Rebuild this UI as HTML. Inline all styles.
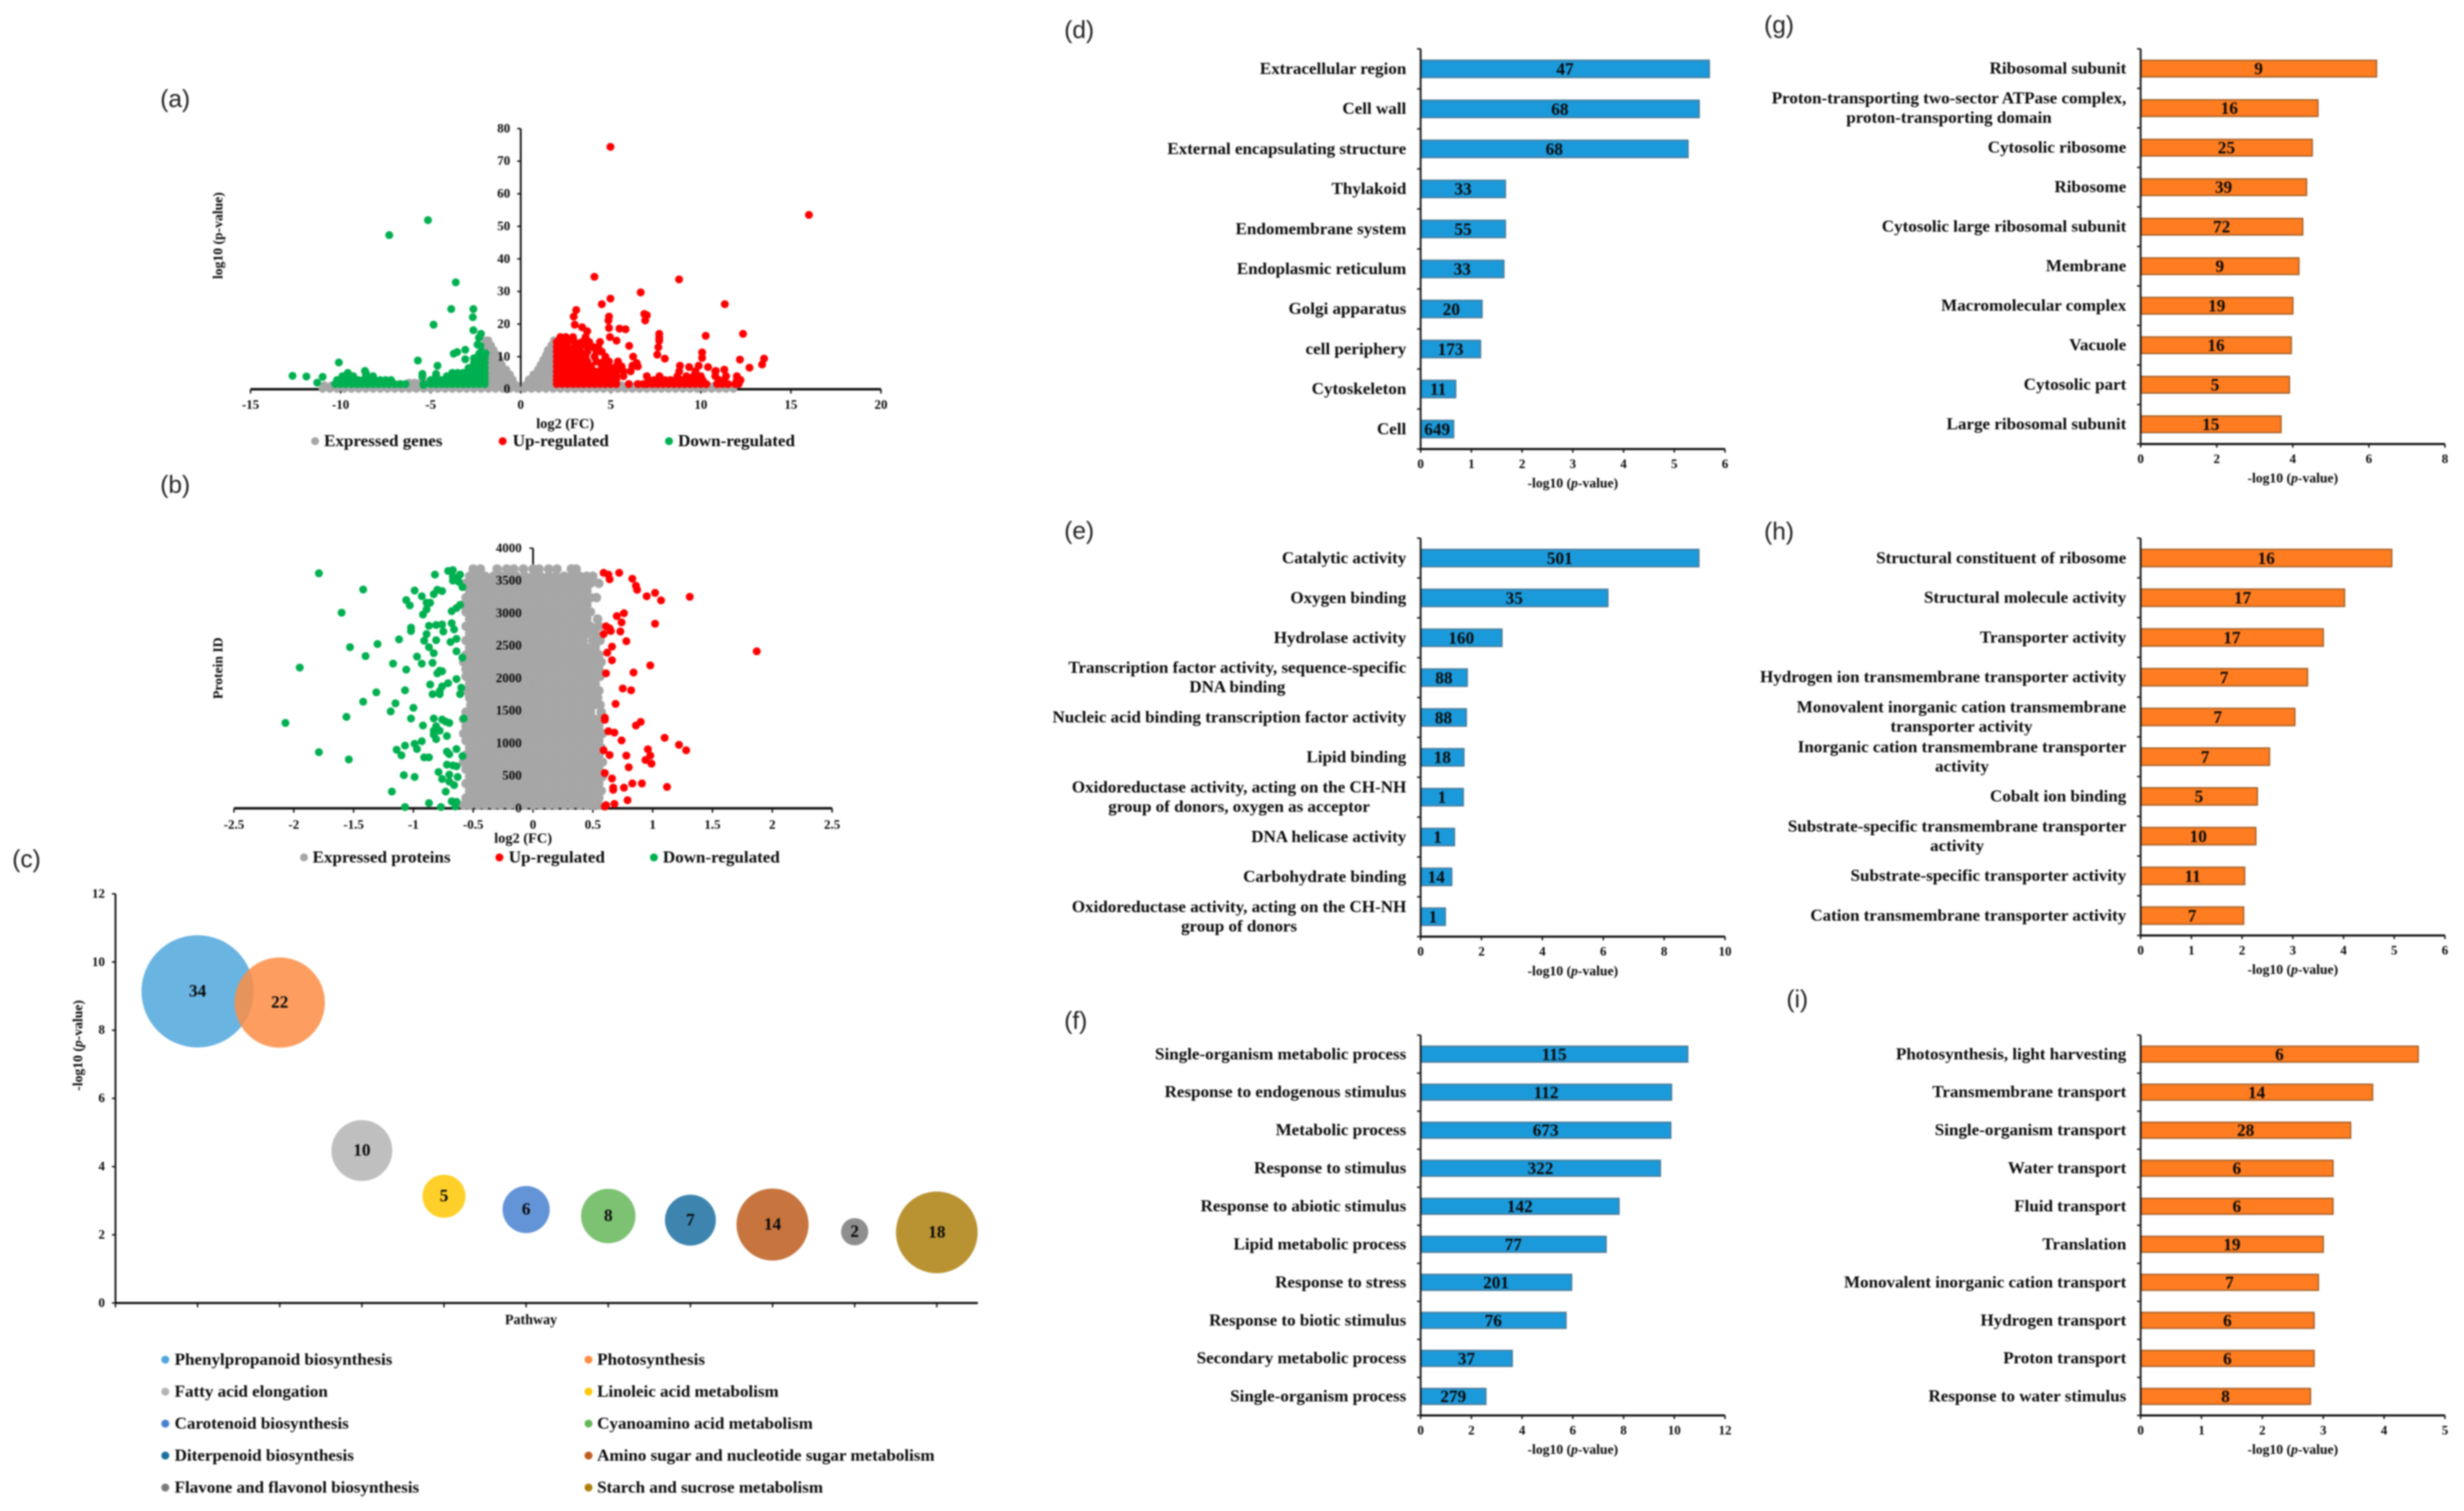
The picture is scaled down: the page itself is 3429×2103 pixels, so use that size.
<!DOCTYPE html>
<html lang="en">
<head>
<meta charset="utf-8">
<title>Transcriptome and proteome enrichment figure</title>
<style>
html,body{margin:0;padding:0;background:#fff;}
svg{display:block;filter:blur(1px);}
text{font-family:"Liberation Serif",serif;font-weight:bold;fill:#0a0a0a;}
.panel-letter{font-family:"Liberation Sans",sans-serif;font-weight:normal;font-size:34px;fill:#222;}
</style>
</head>
<body>
<svg id="figure" xmlns="http://www.w3.org/2000/svg" width="3429" height="2103" viewBox="0 0 3429 2103">
<rect x="0" y="0" width="3429" height="2103" fill="#fff"/>
<text class="panel-letter" x="223" y="149">(a)</text>
<text class="panel-letter" x="223" y="686">(b)</text>
<text class="panel-letter" x="17" y="1207">(c)</text>
<text class="panel-letter" x="1481" y="53">(d)</text>
<text class="panel-letter" x="1481" y="750">(e)</text>
<text class="panel-letter" x="1481" y="1432">(f)</text>
<text class="panel-letter" x="2455" y="46">(g)</text>
<text class="panel-letter" x="2455" y="751">(h)</text>
<text class="panel-letter" x="2486" y="1402">(i)</text>
</svg>
<script>
/* ---------- Panel (a): gene volcano plot, [y, [x, x, ...]] rows plus isolated [x, y] points ---------- */
const aXTicks = [-15,-10,-5,0,5,10,15,20];
const aYTicks = [0,10,20,30,40,50,60,70,80];
const aExpressedRows = [
[.1,[-11,-10.6,-10.2,-9.8,-9.4,-9,-8.6,-8.2,-7.8,-7.4,-7,-6.6,-6.2,-5.8,-5.4,-5,-4.6,-4.2,-3.8,-3.4,-3,-2.6,-2.2,-1.8,-1.4,-1,-.6,-.2,.2,.6,1,1.4,1.8,2.2,2.6,3,3.4,3.8,4.2,4.6,5,5.4,5.8,6.2,6.6,7,7.4,7.8,8.2,8.6,9,9.4,9.8,10.2,10.6,11,11.4,11.8]],
[1.2,[-10.9,-10.5,-8,-7.5,-7,-6.6,-6.2,-5.8,-5.4,-5,-4.6,-2,-1.7,-1.4,-1.1,-.8,-.5,-.25,.25,.5,.8,1.1,1.4,1.7,5.2,5.6,6,6.4,6.8,10.4,10.8,11.2,11.6]],
[2,[-6.2,-5.9,-5.6,-5.3,-1.9,-1.6,-1.3,-1,-.7,-.4,.4,.7,1,1.3,1.6,1.9]],
[3,[-1.9,-1.6,-1.3,-1,-.7,-.45,.45,.75,1.05,1.35,1.65,1.9]],
[4.5,[-1.9,-1.6,-1.3,-1,-.7,-.6,.7,1,1.3,1.6,1.85]],
[6,[-1.9,-1.6,-1.3,-1,-.8,.95,1.25,1.55,1.85]],
[7.5,[-1.95,-1.65,-1.35,-1.05,1.1,1.4,1.7,1.9]],
[9,[-1.95,-1.7,-1.4,-1.15,1.25,1.5,1.8]],
[10.5,[-1.95,-1.7,-1.45,-1.3,1.4,1.6,1.85]],
[12,[-1.95,-1.7,-1.5,1.5,1.7,1.85]],
[13.5,[-1.95,-1.75,-1.65,1.7,1.85]],
[15,[-1.95,-1.8,1.85]]
];
const aUpRows = [
[1.6,[2,2.3,2.6,2.9,3.2,3.5,3.8,4.1,4.4,4.7,5,5.3,6,6.5,6.8,7,7.3,7.6,7.9,8.2,8.5,8.8,9.1,9.4,9.7,10,10.3,10.9,11.2,11.5,11.9,12.1]],
[2.8,[2,2.3,2.6,2.9,3.2,3.5,3.8,4.1,4.4,4.7,5,5.3,7.1,7.4,7.7,8,8.3,8.6,8.9,9.2,9.5,9.8,10.1,11,11.3,12,12.2]],
[4,[2,2.3,2.6,2.9,3.2,3.5,3.8,4.1,4.4,4.7,5,5.3,5.7,7,7.7,8.7,9.2,9.6,10,10.8,11.4,12]],
[5.5,[2,2.3,2.6,2.9,3.2,3.5,3.8,4.1,4.4,4.7,5,5.3,5.7,6.1,8.8,9.7,10.8]],
[7,[2,2.3,2.6,2.9,3.2,3.6,3.9,4.5,4.9,5.3,5.6,6.2,6.5]],
[8.5,[2,2.3,2.6,2.9,3.3,3.7,4.2,4.6,4.9,5.4]],
[10,[2,2.3,2.6,2.9,3.2,3.6,4.1,4.7]],
[11.5,[2,2.3,2.6,2.9,3.3,3.7,4.2,4.5]],
[13,[2,2.3,2.6,3,3.3,3.7,4,4.3]],
[14.5,[2,2.3,2.6,3,3.4,3.8,4.4]],
[16,[2.2,2.5,2.9,3.6]]
];
const aUpPoints = [[4.98,74.4],[16,53.5],[4.09,34.5],[8.79,33.7],[6.66,29.7],[4.98,27.8],[4.5,26.1],[11.33,26.1],[3.08,24.3],[2.94,22.3],[4.9,22.3],[4.87,21.1],[6.86,23.1],[7,22.7],[6.91,21.1],[3,19.8],[3.41,19],[4.9,18.8],[5.48,18.6],[5.82,18.4],[3.69,17.8],[7.69,17],[12.34,17],[10.27,16.4],[7.69,15.8],[7.69,14.9],[4.95,16],[5.32,14.9],[6.02,13.3],[7.64,12.9],[10.07,11.3],[7.58,10.6],[6.24,10],[8,9.4],[10.07,9.6],[12.17,9.1],[13.51,9.4],[13.4,7.6],[12.7,6.6],[8.84,7.2],[9.35,6.8],[9.88,7.2],[10.4,6.8],[11.3,6],[10.83,5.6],[6.44,8],[6.2,7.2]];
const aDownRows = [
[1.6,[-2,-2.3,-2.6,-2.9,-3.2,-3.5,-3.8,-4.1,-4.4,-4.7,-5,-5.4,-6.4,-6.7,-7,-7.3,-7.6,-7.9,-8.2,-8.5,-8.8,-9.1,-9.4,-9.7,-10,-10.3]],
[2.8,[-2,-2.3,-2.6,-2.9,-3.2,-3.5,-3.8,-4.1,-4.4,-4.7,-5,-7.2,-7.5,-7.8,-8.1,-8.4,-8.7,-9,-9.3,-9.6,-9.9,-10.2]],
[4,[-2,-2.3,-2.6,-2.9,-3.2,-3.5,-3.8,-4.1,-4.7,-8.2,-8.6,-9.3,-9.6,-9.9]],
[5,[-2,-2.3,-2.6,-2.9,-3.2,-3.5,-3.8,-8.6,-9.6]],
[6.5,[-2,-2.3,-2.6,-2.9]],
[8,[-2,-2.3,-2.6]],
[9.5,[-2,-2.3,-2.6]],
[11,[-1.95,-2.3]]
];
const aDownPoints = [[-5.15,51.9],[-7.3,47.3],[-3.61,32.8],[-3.86,24.6],[-2.63,24.6],[-2.66,22.1],[-4.84,19.8],[-2.63,18.1],[-2.21,17],[-2.32,15.8],[-2.4,13.7],[-2.24,13.3],[-3.53,11.4],[-3.72,10.9],[-3.08,12.1],[-3.08,9.2],[-2.46,9.6],[-2.13,11.3],[-5.71,8.8],[-10.1,8.2],[-4.62,7.2],[-5.46,4.7],[-5.46,3.9],[-12.67,4.1],[-11.9,3.9],[-11,3.8],[-11.3,2],[-8.65,5.6],[-9.6,4.7],[-4.7,4.7],[-5.4,1.3]];

/* ---------- Panel (b): protein volcano plot ---------- */
const bXTicks = [-2.5,-2,-1.5,-1,-.5,0,.5,1,1.5,2,2.5];
const bYTicks = [0,500,1000,1500,2000,2500,3000,3500,4000];
const bExpressedRows = [
[3680,[-.5,-.44,-.3,-.22,-.16,-.08,0,.05,.13,.2,.32,.36]],
[3570,[-.53,-.47,-.4,-.33,-.27,-.2,-.14,-.07,0,.06,.13,.19,.26,.32,.39,.45,.5]],
[3460,[-.56,-.49,-.43,-.36,-.3,-.23,-.17,-.1,-.04,.03,.09,.16,.22,.29,.35,.42,.48,.55]],
[3350,[-.53,-.46,-.4,-.33,-.27,-.2,-.14,-.07,0,.06,.13,.19,.26,.32,.39,.45]],
[3240,[-.56,-.5,-.43,-.36,-.3,-.23,-.17,-.1,-.04,.03,.09,.16,.22,.29,.35,.42,.48,.53]],
[3130,[-.58,-.53,-.46,-.4,-.33,-.27,-.2,-.14,-.07,0,.06,.13,.19,.26,.32,.39,.45]],
[3020,[-.56,-.49,-.43,-.36,-.3,-.23,-.17,-.1,-.04,.03,.09,.16,.22,.29,.35,.42,.48]],
[2910,[-.53,-.46,-.4,-.33,-.27,-.2,-.14,-.07,0,.06,.13,.19,.26,.32,.39,.45,.54]],
[2800,[-.56,-.49,-.43,-.36,-.3,-.23,-.17,-.1,-.04,.03,.09,.16,.22,.29,.35,.42,.48,.55]],
[2690,[-.53,-.46,-.4,-.33,-.27,-.2,-.14,-.07,0,.06,.13,.19,.26,.32,.39,.45,.52]],
[2580,[-.56,-.49,-.43,-.36,-.3,-.23,-.17,-.1,-.04,.03,.09,.16,.22,.29,.35,.42,.5,.56]],
[2470,[-.53,-.46,-.4,-.33,-.27,-.2,-.14,-.07,0,.06,.13,.19,.26,.32,.39,.45,.52]],
[2360,[-.56,-.49,-.43,-.36,-.3,-.23,-.17,-.1,-.04,.03,.09,.16,.22,.29,.35,.42,.48,.55]],
[2250,[-.58,-.52,-.46,-.4,-.33,-.27,-.2,-.14,-.07,0,.06,.13,.19,.26,.32,.39,.45,.52,.57]],
[2140,[-.56,-.49,-.43,-.36,-.3,-.23,-.17,-.1,-.04,.03,.09,.16,.22,.29,.35,.42,.48,.55]],
[2030,[-.56,-.51,-.46,-.4,-.33,-.27,-.2,-.14,-.07,0,.06,.13,.19,.26,.32,.39,.44,.5,.56]],
[1920,[-.53,-.48,-.43,-.36,-.3,-.23,-.17,-.1,-.04,.03,.09,.16,.22,.29,.35,.42,.47,.52]],
[1810,[-.56,-.5,-.46,-.4,-.33,-.27,-.2,-.14,-.07,0,.06,.13,.19,.26,.32,.39,.45,.5,.55]],
[1700,[-.53,-.49,-.43,-.36,-.3,-.23,-.17,-.1,-.04,.03,.09,.16,.22,.29,.35,.42,.48,.54]],
[1590,[-.52,-.46,-.4,-.33,-.27,-.2,-.14,-.07,0,.06,.13,.19,.26,.32,.39,.45,.51,.56]],
[1480,[-.56,-.49,-.43,-.36,-.3,-.23,-.17,-.1,-.04,.03,.09,.16,.22,.29,.35,.42,.48,.57]],
[1370,[-.58,-.53,-.46,-.4,-.33,-.27,-.2,-.14,-.07,0,.06,.13,.19,.26,.32,.39,.45,.52,.58]],
[1260,[-.56,-.49,-.43,-.36,-.3,-.23,-.17,-.1,-.04,.03,.09,.16,.22,.29,.35,.42,.48,.55]],
[1150,[-.58,-.53,-.46,-.4,-.33,-.27,-.2,-.14,-.07,0,.06,.13,.19,.26,.32,.39,.45,.52,.58]],
[1040,[-.56,-.49,-.43,-.36,-.3,-.23,-.17,-.1,-.04,.03,.09,.16,.22,.29,.35,.42,.48,.55]],
[930,[-.53,-.46,-.4,-.33,-.27,-.2,-.14,-.07,0,.06,.13,.19,.26,.32,.39,.45,.52,.57]],
[820,[-.56,-.49,-.43,-.36,-.3,-.23,-.17,-.1,-.04,.03,.09,.16,.22,.29,.35,.42,.48,.55]],
[710,[-.58,-.53,-.46,-.4,-.33,-.27,-.2,-.14,-.07,0,.06,.13,.19,.26,.32,.39,.45,.52,.58]],
[600,[-.56,-.49,-.43,-.36,-.3,-.23,-.17,-.1,-.04,.03,.09,.16,.22,.29,.35,.42,.48,.55]],
[490,[-.53,-.46,-.4,-.33,-.27,-.2,-.14,-.07,0,.06,.13,.19,.26,.32,.39,.45,.52,.58]],
[380,[-.56,-.49,-.43,-.36,-.3,-.23,-.17,-.1,-.04,.03,.09,.16,.22,.29,.35,.42,.48,.55]],
[270,[-.53,-.46,-.4,-.33,-.27,-.2,-.14,-.07,0,.06,.13,.19,.26,.32,.39,.45,.51,.57]],
[160,[-.56,-.49,-.43,-.36,-.3,-.23,-.17,-.1,-.04,.03,.09,.16,.22,.29,.35,.42,.48,.55]],
[50,[-.58,-.53,-.46,-.4,-.33,-.27,-.2,-.14,-.07,0,.06,.13,.19,.26,.32,.39,.45,.5,.55]]
];
const bUpPoints = [[.59,3622],[.63,3594],[.64,3522],[.72,3622],[.83,3530],[.86,3422],[.87,3361],[1.02,3313],[.95,3261],[1.31,3253],[1.07,3197],[.76,3000],[.7,2956],[.74,2859],[1.02,2839],[.61,2799],[.64,2767],[.65,2727],[.73,2719],[.59,2679],[.78,2570],[.66,2486],[.62,2394],[1.87,2414],[.66,2277],[.98,2197],[.84,2088],[.61,2076],[.75,1843],[.82,1815],[.69,1606],[.6,1394],[.6,1361],[.9,1329],[.86,1273],[.63,1185],[.68,1165],[1.1,1084],[.74,1044],[1.22,976],[1.28,892],[.96,908],[.59,892],[.64,819],[.78,811],[.98,811],[.94,743],[.99,687],[.8,631],[.6,542],[.66,458],[.91,382],[.83,382],[1.12,329],[.76,317],[.67,317],[.67,285],[.79,124],[.68,68],[.61,48],[.6,28]];
const bDownPoints = [[-1.79,3614],[-.82,3594],[-.71,3651],[-.67,3663],[-.61,3594],[-.67,3562],[-.63,3542],[-.67,3502],[-.62,3482],[-.59,3402],[-1.42,3365],[-.99,3349],[-.8,3361],[-.76,3341],[-.83,3293],[-.93,3261],[-1.06,3201],[-1.03,3120],[-.89,3161],[-.86,3161],[-.61,3128],[-.64,3080],[-.68,3032],[-.89,3060],[-.92,2980],[-1.6,3008],[-.68,2847],[-.87,2807],[-.81,2819],[-.76,2827],[-1.02,2779],[-1.02,2727],[-.75,2719],[-.66,2751],[-.89,2679],[-1.12,2598],[-.91,2578],[-.81,2586],[-.64,2606],[-.69,2558],[-1.3,2526],[-1.53,2478],[-.87,2478],[-.83,2386],[-.64,2414],[-1.4,2341],[-.97,2333],[-.59,2317],[-.84,2237],[-.93,2225],[-1.17,2225],[-1.95,2165],[-1.06,2133],[-.78,2116],[-.76,2108],[-.8,2076],[-.64,1988],[-.86,1904],[-.71,1924],[-.76,1875],[-.6,1855],[-1.07,1815],[-.78,1803],[-1.31,1783],[-.84,1755],[-.78,1755],[-.61,1755],[-1.42,1639],[-1.15,1614],[-1,1546],[-1.19,1490],[-1.56,1406],[-.83,1381],[-1.02,1381],[-.76,1365],[-.73,1333],[-.58,1381],[-.7,1313],[-2.07,1313],[-.92,1273],[-.81,1261],[-.83,1193],[-.78,1193],[-.83,1133],[-.72,1112],[-.81,1064],[-.93,1032],[-1.07,964],[-.99,992],[-.97,912],[-1.14,900],[-1.79,863],[-.72,871],[-.64,912],[-.7,831],[-1.1,815],[-.59,803],[-.91,783],[-.87,783],[-1.54,751],[-.72,671],[-.67,659],[-.64,647],[-.79,558],[-1.08,510],[-.99,482],[-.7,518],[-.63,482],[-.76,450],[-.7,410],[-.66,357],[-1.18,257],[-.73,257],[-.68,108],[-.64,100],[-.87,80],[-1.07,20],[-.77,20],[-.65,28]];

/* ---------- Panel (c): pathway bubble chart ---------- */
const cPathways = ["Phenylpropanoid biosynthesis","Photosynthesis","Fatty acid elongation","Linoleic acid metabolism","Carotenoid biosynthesis","Cyanoamino acid metabolism","Diterpenoid biosynthesis","Amino sugar and nucleotide sugar metabolism","Flavone and flavonol biosynthesis","Starch and sucrose metabolism"];
const cPValues = [9.14,8.81,4.47,3.13,2.74,2.55,2.43,2.3,2.09,2.07];
const cCounts = [34,22,10,5,6,8,7,14,2,18];
const cColors = ["#50A7DD","#FD8D44","#B4B4B4","#FFC804","#4981D1","#65B759","#1B70A0","#BD5C1D","#7A7A7A","#AD7F0E"];
const cYTicks = [0,2,4,6,8,10,12];

/* ---------- Panels (d)-(i): enrichment bars ---------- */
const dCategories = ["Extracellular region","Cell wall","External encapsulating structure","Thylakoid","Endomembrane system","Endoplasmic reticulum","Golgi apparatus","cell periphery","Cytoskeleton","Cell"];
const dValues = [5.69,5.49,5.27,1.67,1.67,1.64,1.21,1.18,.69,.65];
const dCounts = [47,68,68,33,55,33,20,173,11,649];
const dTicks = [0,1,2,3,4,5,6];

const eCategories = ["Catalytic activity","Oxygen binding","Hydrolase activity","Transcription factor activity, sequence-specific\nDNA binding","Nucleic acid binding transcription factor activity","Lipid binding","Oxidoreductase activity, acting on the CH-NH\ngroup of donors, oxygen as acceptor","DNA helicase activity","Carbohydrate binding","Oxidoreductase activity, acting on the CH-NH\ngroup of donors"];
const eValues = [9.14,6.15,2.67,1.53,1.5,1.42,1.4,1.11,1.02,.81];
const eCounts = [501,35,160,88,88,18,1,1,14,1];
const eTicks = [0,2,4,6,8,10];

const fCategories = ["Single-organism metabolic process","Response to endogenous stimulus","Metabolic process","Response to stimulus","Response to abiotic stimulus","Lipid metabolic process","Response to stress","Response to biotic stimulus","Secondary metabolic process","Single-organism process"];
const fValues = [10.53,9.89,9.86,9.45,7.82,7.31,5.95,5.73,3.61,2.57];
const fCounts = [115,112,673,322,142,77,201,76,37,279];
const fTicks = [0,2,4,6,8,10,12];

const gCategories = ["Ribosomal subunit","Proton-transporting two-sector ATPase complex,\nproton-transporting domain","Cytosolic ribosome","Ribosome","Cytosolic large ribosomal subunit","Membrane","Macromolecular complex","Vacuole","Cytosolic part","Large ribosomal subunit"];
const gValues = [6.2,4.66,4.51,4.36,4.26,4.16,4,3.96,3.91,3.69];
const gCounts = [9,16,25,39,72,9,19,16,5,15];
const gTicks = [0,2,4,6,8];

const hCategories = ["Structural constituent of ribosome","Structural molecule activity","Transporter activity","Hydrogen ion transmembrane transporter activity","Monovalent inorganic cation transmembrane\ntransporter activity","Inorganic cation transmembrane transporter\nactivity","Cobalt ion binding","Substrate-specific transmembrane transporter\nactivity","Substrate-specific transporter activity","Cation transmembrane transporter activity"];
const hValues = [4.95,4.02,3.6,3.29,3.04,2.54,2.3,2.27,2.05,2.03];
const hCounts = [16,17,17,7,7,7,5,10,11,7];
const hTicks = [0,1,2,3,4,5,6];

const iCategories = ["Photosynthesis, light harvesting","Transmembrane transport","Single-organism transport","Water transport","Fluid transport","Translation","Monovalent inorganic cation transport","Hydrogen transport","Proton transport","Response to water stimulus"];
const iValues = [4.56,3.81,3.45,3.16,3.16,3,2.92,2.85,2.85,2.79];
const iCounts = [6,14,28,6,6,19,7,6,6,8];
const iTicks = [0,1,2,3,4,5];

/* ---------- Drawing ---------- */
const NS = 'http://www.w3.org/2000/svg';
const figure = document.getElementById('figure');

function make(tag, attrs, parent) {
  const el = document.createElementNS(NS, tag);
  for (const k in attrs) el.setAttribute(k, attrs[k]);
  parent.appendChild(el);
  return el;
}
function group(name, parent) {
  const el = make('g', {}, parent);
  
  
  return el;
}
function label(parent, x, cy, str, size, anchor, name) {
  const el = make('text', {x: x, y: cy + size * 0.3, 'font-size': size, 'text-anchor': anchor}, parent);
  el.textContent = str;
  
  
  return el;
}
function rule(parent, x1, y1, x2, y2, width, name) {
  const el = make('line', {x1: x1, y1: y1, x2: x2, y2: y2, stroke: '#111', 'stroke-width': width}, parent);
  
  
  return el;
}
function scale(d0, d1, r0, r1) {
  return function (v) { return r0 + (v - d0) / (d1 - d0) * (r1 - r0); };
}
function dot(parent, cx, cy, r, fill, name) {
  const el = make('circle', {cx: cx, cy: cy, r: r, fill: fill}, parent);
  
  
  return el;
}
function drawRows(parent, rows, sx, sy, r, fill, name) {
  rows.forEach(function (row) {
    row[1].forEach(function (xv) { dot(parent, sx(xv), sy(row[0]), r, fill, name); });
  });
}
function drawPoints(parent, points, sx, sy, r, fill, name) {
  points.forEach(function (p) { dot(parent, sx(p[0]), sy(p[1]), r, fill, name); });
}
function legendEntry(parent, dotX, textX, cy, str, fill, r, name) {
  const g = group(name, parent);
  dot(g, dotX, cy, r, fill, name + '-marker');
  label(g, textX, cy, str, 23.7, 'start', name + '-label');
}
function pValueTitle(parent, x, cy, prefix, transform, name) {
  const el = label(parent, x, cy, '', 19, 'middle', name);
  const a = make('tspan', {}, el); a.textContent = prefix + ' (';
  const b = make('tspan', {'font-style': 'italic'}, el); b.textContent = 'p';
  const c = make('tspan', {}, el); c.textContent = '-value)';
  if (transform) el.setAttribute('transform', transform);
  return el;
}

function drawVolcano(cfg) {
  const g = group(cfg.name, figure);
  const sx = scale(cfg.xTicks[0], cfg.xTicks[cfg.xTicks.length - 1], cfg.x0, cfg.x1);
  const sy = scale(cfg.yTicks[0], cfg.yTicks[cfg.yTicks.length - 1], cfg.yBottom, cfg.yTop);
  const axes = group(cfg.name + '-axes', g);
  rule(axes, cfg.x0, cfg.yBottom, cfg.x1, cfg.yBottom, 3.5, 'x-axis-line');
  rule(axes, sx(0), cfg.yTop, sx(0), cfg.yBottom, 2.5, 'y-axis-line');
  cfg.xTicks.forEach(function (t) {
    rule(axes, sx(t), cfg.yBottom, sx(t), cfg.yBottom + 6, 2, 'x-tick');
  });
  cfg.yTicks.forEach(function (t) {
    rule(axes, sx(0) - 5, sy(t), sx(0), sy(t), 2, 'y-tick');
  });
  const pts = group(cfg.name + '-points', g);
  drawRows(pts, cfg.grey, sx, sy, cfg.greyR, '#A6A6A6', 'expressed-point');
  if (cfg.upRows) drawRows(pts, cfg.upRows, sx, sy, 5.5, '#FF0000', 'up-regulated-point');
  if (cfg.downRows) drawRows(pts, cfg.downRows, sx, sy, 5.5, '#00B050', 'down-regulated-point');
  drawPoints(pts, cfg.up, sx, sy, 5.5, '#FF0000', 'up-regulated-point');
  drawPoints(pts, cfg.down, sx, sy, 5.5, '#00B050', 'down-regulated-point');
  cfg.xTicks.forEach(function (t) {
    label(g, sx(t), cfg.xTickY, String(t), 18, 'middle', 'x-tick-label');
  });
  cfg.yTicks.forEach(function (t) {
    label(g, cfg.yLabelRight, sy(t), String(t), 18, 'end', 'y-tick-label');
  });
  label(g, cfg.xTitleX, cfg.xTitleY, 'log2 (FC)', 20, 'middle', 'x-axis-title');
  const yt = label(g, 0, 0, cfg.yTitle, 19, 'middle', 'y-axis-title');
  yt.setAttribute('transform', 'translate(' + cfg.yTitleX + ' ' + cfg.yTitleY + ') rotate(-90)');
  const lg = group(cfg.name + '-legend', g);
  cfg.legend.forEach(function (e) {
    legendEntry(lg, e[0], e[1], cfg.legendY, e[2], e[3], 5.5, 'legend-entry-' + e[2].toLowerCase().replace(/[^a-z]+/g, '-'));
  });
}

drawVolcano({
  name: 'gene-volcano-plot', x0: 348.7, x1: 1226, yTop: 179, yBottom: 541.7,
  xTicks: aXTicks, yTicks: aYTicks, grey: aExpressedRows, greyR: 5.5,
  upRows: aUpRows, downRows: aDownRows, up: aUpPoints, down: aDownPoints,
  xTickY: 563.5, yLabelRight: 710, xTitleX: 786.5, xTitleY: 590,
  yTitle: 'log10 (p-value)', yTitleX: 304, yTitleY: 328, legendY: 614,
  legend: [[438.5, 451, 'Expressed genes', '#A6A6A6'], [699.5, 713.5, 'Up-regulated', '#FF0000'], [931, 943.6, 'Down-regulated', '#00B050']]
});
drawVolcano({
  name: 'protein-volcano-plot', x0: 325.6, x1: 1158, yTop: 763, yBottom: 1125,
  xTicks: bXTicks, yTicks: bYTicks, grey: bExpressedRows, greyR: 6.6,
  up: bUpPoints, down: bDownPoints,
  xTickY: 1148, yLabelRight: 726, xTitleX: 728, xTitleY: 1167,
  yTitle: 'Protein ID', yTitleX: 304, yTitleY: 930, legendY: 1193.4,
  legend: [[423, 435, 'Expressed proteins', '#A6A6A6'], [695, 708, 'Up-regulated', '#FF0000'], [910, 922.5, 'Down-regulated', '#00B050']]
});

(function drawBubbles() {
  const g = group('pathway-bubble-chart', figure);
  const x0 = 160.7, bottom = 1813.5, top = 1244, band = 114.3;
  const sy = scale(0, 12, bottom, top);
  const sx = function (i) { return x0 + (i + 1) * band; };
  const sizeUnit = 13.4;
  rule(g, x0, top, x0, bottom, 2.5, 'y-axis-line');
  rule(g, x0, bottom, sx(cPathways.length - 1) + band / 2, bottom, 3, 'x-axis-line');
  rule(g, x0, bottom, x0, bottom + 6, 2, 'x-tick');
  cYTicks.forEach(function (t) {
    rule(g, x0 - 5, sy(t), x0, sy(t), 2, 'y-tick');
    label(g, 146, sy(t), String(t), 18, 'end', 'y-tick-label');
  });
  cPathways.forEach(function (p, i) {
    rule(g, sx(i), bottom, sx(i), bottom + 6, 2, 'x-tick');
  });
  cPathways.forEach(function (p, i) {
    const c = make('circle', {cx: sx(i), cy: sy(cPValues[i]), r: sizeUnit * Math.sqrt(cCounts[i]), fill: cColors[i], 'fill-opacity': 0.85}, g);
    
    
  });
  cPathways.forEach(function (p, i) {
    label(g, sx(i), sy(cPValues[i]), String(cCounts[i]), 24, 'middle', 'bubble-count-label');
  });
  label(g, 739, 1837, 'Pathway', 19.5, 'middle', 'x-axis-title');
  pValueTitle(g, 0, 0, '-log10', 'translate(109 1455) rotate(-90)', 'y-axis-title');
  const lg = group('pathway-legend', g);
  const rowY = [1892.4, 1936.9, 1981.4, 2025.9, 2070.4];
  cPathways.forEach(function (p, i) {
    const col = i % 2, row = Math.floor(i / 2);
    legendEntry(lg, col ? 819 : 230, col ? 831 : 243, rowY[row], p, cColors[i], 5.5, 'legend-entry-' + p.toLowerCase().replace(/[^a-z]+/g, '-'));
  });
})();

function drawBars(cfg) {
  const g = group(cfg.name, figure);
  const last = cfg.ticks[cfg.ticks.length - 1];
  const sx = scale(0, last, cfg.x0, cfg.x1);
  const band = (cfg.bottom - cfg.top) / cfg.categories.length;
  const bandCenter = function (i) { return cfg.top + band * (i + 0.5); };
  cfg.categories.forEach(function (cat, i) {
    const cy = bandCenter(i);
    const slug = cat.split('\n').join(' ').toLowerCase().replace(/[^a-z]+/g, '-');
    const bar = make('rect', {x: cfg.x0, y: cy - cfg.barH / 2, width: sx(cfg.values[i]) - cfg.x0, height: cfg.barH, fill: cfg.fill, stroke: cfg.edge, 'stroke-width': 2}, g);
    
    
    label(g, (cfg.x0 + sx(cfg.values[i])) / 2, cy + 1, String(cfg.counts[i]), 24, 'middle', 'bar-count-label');
    const right = cfg.x0 - 20;
    const lines = cat.split('\n');
    if (lines.length === 1) {
      label(g, right, cy, lines[0], 23.7, 'end', 'category-label');
    } else {
      const els = lines.map(function (line, k) {
        return label(g, right, cy + (k - (lines.length - 1) / 2) * 27, line, 23.7, 'middle', 'category-label');
      });
      let w = 0;
      els.forEach(function (el) { w = Math.max(w, el.getComputedTextLength()); });
      els.forEach(function (el) { el.setAttribute('x', right - w / 2); });
    }
  });
  rule(g, cfg.x0, cfg.top, cfg.x0, cfg.bottom, 2.5, 'y-axis-line');
  rule(g, cfg.x0 - 1, cfg.bottom, cfg.x1, cfg.bottom, 3, 'x-axis-line');
  for (let i = 0; i <= cfg.categories.length; i++) {
    rule(g, cfg.x0 - 5, cfg.top + band * i, cfg.x0, cfg.top + band * i, 2, 'y-tick');
  }
  cfg.ticks.forEach(function (t) {
    rule(g, sx(t), cfg.bottom, sx(t), cfg.bottom + 5, 2, 'x-tick');
    label(g, sx(t), cfg.bottom + 21, String(t), 18, 'middle', 'x-tick-label');
  });
  pValueTitle(g, (cfg.x0 + cfg.x1) / 2, cfg.bottom + 48, '-log10', null, 'x-axis-title');
}

const blueFill = '#1B9ADB', blueEdge = '#4a7c99', orangeFill = '#FF7D20', orangeEdge = '#a8622a';
drawBars({name: 'cellular-component-upper-bars-d', x0: 1977, x1: 2400.6, top: 68, bottom: 625, barH: 24, ticks: dTicks, categories: dCategories, values: dValues, counts: dCounts, fill: blueFill, edge: blueEdge});
drawBars({name: 'molecular-function-bars-e', x0: 1977, x1: 2400.6, top: 749, bottom: 1303.6, barH: 24, ticks: eTicks, categories: eCategories, values: eValues, counts: eCounts, fill: blueFill, edge: blueEdge});
drawBars({name: 'biological-process-bars-f', x0: 1977, x1: 2400.6, top: 1440.7, bottom: 1970, barH: 22, ticks: fTicks, categories: fCategories, values: fValues, counts: fCounts, fill: blueFill, edge: blueEdge});
drawBars({name: 'cellular-component-bars-g', x0: 2979, x1: 3402.5, top: 68, bottom: 618, barH: 23, ticks: gTicks, categories: gCategories, values: gValues, counts: gCounts, fill: orangeFill, edge: orangeEdge});
drawBars({name: 'molecular-function-bars-h', x0: 2979, x1: 3402.5, top: 749, bottom: 1302, barH: 24, ticks: hTicks, categories: hCategories, values: hValues, counts: hCounts, fill: orangeFill, edge: orangeEdge});
drawBars({name: 'biological-process-bars-i', x0: 2979, x1: 3402.5, top: 1440.7, bottom: 1970, barH: 22, ticks: iTicks, categories: iCategories, values: iValues, counts: iCounts, fill: orangeFill, edge: orangeEdge});
</script>
</body>
</html>
